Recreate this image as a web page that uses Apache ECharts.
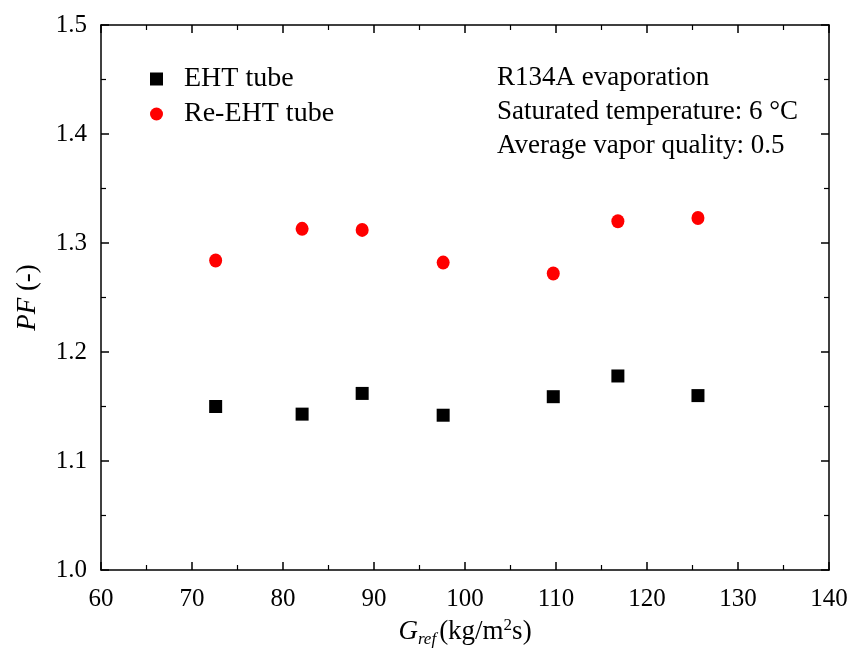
<!DOCTYPE html>
<html>
<head>
<meta charset="utf-8">
<script src="https://cdn.jsdelivr.net/npm/echarts@6/dist/echarts.min.js"></script>
<style>
  html, body { margin: 0; padding: 0; background: #fff; }
  #chart { width: 855px; height: 668px; }
</style>
</head>
<body>
<div id="chart"></div>
<script>
// G_ref values (kg/m2s)
const gRef = [72.6, 82.1, 88.7, 97.6, 109.7, 116.8, 125.6];
// PF of each tube
const ehtPF = [1.150, 1.143, 1.162, 1.142, 1.159, 1.178, 1.160];
const reEhtPF = [1.284, 1.313, 1.312, 1.282, 1.272, 1.320, 1.323];
const notes = ['R134A evaporation', 'Saturated temperature: 6 \u00B0C', 'Average vapor quality: 0.5'];

const font = 'Liberation Serif, Times New Roman, serif';

const chart = echarts.init(document.getElementById('chart'));

function axisBase(extra) {
  return Object.assign({
    axisLine: { show: true, onZero: false, lineStyle: { color: '#000', width: 1.5 } },
    axisTick: { show: true, inside: true, length: 8, lineStyle: { color: '#000', width: 1.5 } },
    minorTick: { show: true, splitNumber: 2, length: 5, lineStyle: { color: '#000', width: 1.2 } },
    splitLine: { show: false },
    axisLabel: { color: '#000', fontFamily: font, fontSize: 25 }
  }, extra);
}

const option = {
  backgroundColor: '#fff',
  animation: false,
  grid: { left: 101, right: 26, top: 25, bottom: 98 },
  legend: {
    orient: 'vertical',
    left: 145,
    top: 60,
    itemWidth: 13,
    itemHeight: 13,
    itemGap: 7,
    textStyle: { color: '#000', fontFamily: font, fontSize: 28, padding: [0, 0, 0, 16] },
    data: [
      { name: 'EHT tube', icon: 'rect' },
      { name: 'Re-EHT tube', icon: 'circle' }
    ]
  },
  xAxis: [
    axisBase({
      type: 'value', min: 60, max: 140, interval: 10, position: 'bottom',
      name: '{i|G}{sub|ref}{n|(kg/m}{sup|2}{n|s)}',
      nameLocation: 'middle', nameGap: 44,
      nameTextStyle: {
        color: '#000', fontFamily: font, fontSize: 27,
        rich: {
          i: { fontFamily: font, fontSize: 27, fontStyle: 'italic', color: '#000' },
          sub: { fontFamily: font, fontSize: 17, fontStyle: 'italic', color: '#000', padding: [14, 3, 0, 0] },
          n: { fontFamily: font, fontSize: 27, color: '#000' },
          sup: { fontFamily: font, fontSize: 17, color: '#000', padding: [0, 0, 14, 0] }
        }
      },
      axisLabel: { color: '#000', fontFamily: font, fontSize: 25, margin: 17 }
    }),
    axisBase({
      type: 'value', min: 60, max: 140, interval: 10, position: 'top',
      axisLabel: { show: false }
    })
  ],
  yAxis: [
    axisBase({
      type: 'value', min: 1.0, max: 1.5, interval: 0.1, position: 'left',
      name: '{i|PF} (-)',
      nameLocation: 'middle', nameGap: 60, nameRotate: 90,
      nameTextStyle: {
        color: '#000', fontFamily: font, fontSize: 27,
        rich: {
          i: { fontFamily: font, fontSize: 27, fontStyle: 'italic', color: '#000' }
        }
      },
      axisLabel: {
        color: '#000', fontFamily: font, fontSize: 25, margin: 14,
        formatter: v => v.toFixed(1)
      }
    }),
    axisBase({
      type: 'value', min: 1.0, max: 1.5, interval: 0.1, position: 'right',
      axisLabel: { show: false }
    })
  ],
  graphic: notes.map((t, i) => ({
    type: 'text',
    left: 497,
    top: 64 + i * 34,
    style: { text: t, fill: '#000', font: '27px ' + font }
  })),
  series: [
    {
      name: 'EHT tube',
      type: 'scatter',
      symbol: 'rect',
      symbolSize: 13,
      itemStyle: { color: '#000', opacity: 1 },
      data: gRef.map((g, i) => [g, ehtPF[i]])
    },
    {
      name: 'Re-EHT tube',
      type: 'scatter',
      symbol: 'circle',
      symbolSize: [13, 14],
      itemStyle: { color: '#ff0000', opacity: 1 },
      data: gRef.map((g, i) => [g, reEhtPF[i]])
    }
  ]
};

chart.setOption(option);
</script>
</body>
</html>
